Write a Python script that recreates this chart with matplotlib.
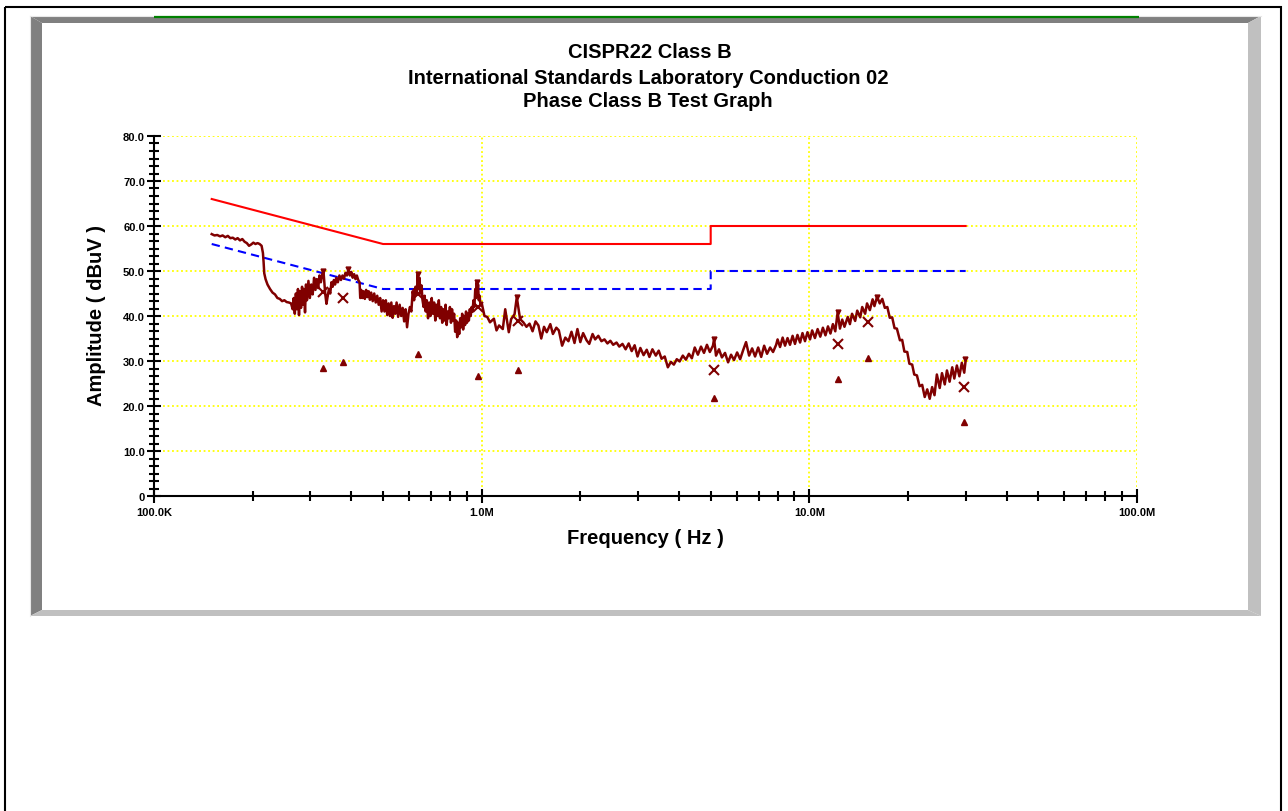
import matplotlib
matplotlib.use("Agg")
import matplotlib.pyplot as plt
from matplotlib.patches import Polygon, Rectangle
from matplotlib.ticker import (FixedLocator, LogLocator, NullFormatter, FixedFormatter,
                               AutoMinorLocator)

plt.rcParams['font.family'] = ['Liberation Sans', 'DejaVu Sans']

# ---- data (frequency in MHz, level in dBuV) ----
qp_limit_f = [0.15, 0.5, 0.5, 5.0, 5.0, 30.0]
qp_limit_db = [66.0, 56.0, 56.0, 56.0, 60.0, 60.0]
av_limit_f = [0.15, 0.5, 0.5, 5.0, 5.0, 30.0]
av_limit_db = [56.0, 46.0, 46.0, 46.0, 50.0, 50.0]

trace_f = [
    0.150, 0.153, 0.156, 0.159, 0.162, 0.165, 0.168, 0.171, 0.174, 0.177,
    0.180, 0.183, 0.186, 0.189, 0.192, 0.195, 0.198, 0.201, 0.204, 0.207,
    0.210, 0.213, 0.215, 0.216, 0.217, 0.219, 0.222, 0.226, 0.230, 0.234,
    0.238, 0.242, 0.246, 0.250, 0.254, 0.258, 0.262, 0.265,
    0.267, 0.269, 0.271, 0.273, 0.275, 0.277, 0.279, 0.281, 0.283, 0.285,
    0.287, 0.289, 0.291, 0.293, 0.296, 0.299, 0.302, 0.305, 0.308, 0.311,
    0.314, 0.317, 0.320, 0.323, 0.326, 0.329, 0.331, 0.333, 0.336, 0.339,
    0.342, 0.345, 0.348, 0.351, 0.354, 0.357, 0.360, 0.364, 0.368, 0.372,
    0.376, 0.380, 0.384, 0.388, 0.392, 0.396, 0.400, 0.404, 0.408, 0.412,
    0.416, 0.420, 0.424,
    0.426, 0.429, 0.432, 0.436, 0.440, 0.444, 0.448, 0.452, 0.456, 0.460,
    0.465, 0.470, 0.475, 0.480, 0.485, 0.490, 0.495, 0.500, 0.505, 0.510,
    0.515, 0.520, 0.525, 0.530, 0.535, 0.540, 0.545, 0.550, 0.556, 0.562,
    0.568, 0.574, 0.580, 0.586, 0.592, 0.598, 0.604, 0.610, 0.616, 0.622,
    0.628, 0.634, 0.638, 0.642, 0.646, 0.650, 0.655, 0.660, 0.665, 0.670,
    0.675, 0.680, 0.686, 0.692, 0.698, 0.704, 0.710, 0.716, 0.722, 0.728,
    0.734, 0.740, 0.746, 0.752, 0.758, 0.764, 0.770, 0.776, 0.782, 0.788,
    0.794, 0.800, 0.806, 0.812, 0.818, 0.824, 0.830, 0.836, 0.842, 0.848,
    0.854, 0.860, 0.866, 0.872, 0.878, 0.884, 0.890, 0.896, 0.902, 0.908,
    0.914, 0.920, 0.926, 0.932, 0.938, 0.944, 0.950, 0.956, 0.962, 0.966,
    0.970, 0.975, 0.980, 0.986, 0.992,
    1.00, 1.02, 1.04, 1.06, 1.09, 1.11, 1.13, 1.16, 1.18, 1.21,
    1.23, 1.26, 1.28, 1.31, 1.34, 1.37, 1.40, 1.43, 1.46, 1.49,
    1.52, 1.55, 1.58, 1.62, 1.65, 1.69, 1.72, 1.76, 1.80, 1.84,
    1.88, 1.92, 1.96, 2.00, 2.04, 2.09, 2.13, 2.18, 2.22, 2.27,
    2.32, 2.37, 2.42, 2.47, 2.52, 2.58, 2.63, 2.69, 2.75, 2.81,
    2.87, 2.93, 2.99, 3.05, 3.12, 3.19, 3.25, 3.32, 3.40, 3.47,
    3.54, 3.62, 3.70, 3.78, 3.86, 3.94, 4.02, 4.11, 4.20, 4.29,
    4.38, 4.47, 4.57, 4.67, 4.77, 4.87, 4.97, 5.08, 5.12, 5.19,
    5.30, 5.41, 5.53, 5.65, 5.77, 5.89, 6.02, 6.15, 6.28, 6.41,
    6.55, 6.69, 6.83, 6.98, 7.13, 7.28, 7.43, 7.59, 7.75, 7.92,
    8.00, 8.14, 8.29, 8.43, 8.58, 8.73, 8.89, 9.04, 9.20, 9.37,
    9.53, 9.70, 9.87, 10.05, 10.2, 10.4, 10.6, 10.8, 11.0, 11.2,
    11.4, 11.6, 11.8, 12.0, 12.2, 12.4, 12.6, 12.8, 13.1, 13.3,
    13.5, 13.8, 14.0, 14.3, 14.5, 14.8, 15.0, 15.3, 15.6, 15.8,
    16.1, 16.4, 16.7, 17.0, 17.3, 17.6, 17.9, 18.2, 18.5, 18.9,
    19.2, 19.5, 19.9, 20.2, 20.6, 20.9, 21.3, 21.7, 22.1, 22.5,
    22.9, 23.3, 23.7, 24.1, 24.5, 25.0, 25.4, 25.9, 26.3, 26.8,
    27.3, 27.7, 28.2, 28.7, 29.2, 29.7, 30.0,
]
trace_db = [
    58.2, 57.9, 58.0, 57.7, 57.9, 57.5, 57.8, 57.3, 57.4, 57.0,
    57.3, 56.8, 57.1, 56.5, 56.2, 55.6, 55.9, 56.3, 56.0, 56.2,
    56.0, 55.6, 54.0, 52.0, 49.5, 48.2, 47.0, 46.0, 45.2, 44.8,
    44.0, 43.8, 43.3, 43.5, 43.1, 43.0, 42.8, 41.5,
    44.0, 40.5, 45.0, 41.5, 46.0, 40.2, 45.5, 41.8, 46.5, 42.5,
    46.0, 40.8, 47.0, 43.5, 47.8, 44.0, 47.0, 44.8, 48.5, 45.8,
    48.2, 46.2, 49.0, 47.5, 49.2, 50.0, 47.5, 45.0, 42.7, 44.5,
    46.0, 45.0, 47.5, 46.5, 48.0, 47.0, 48.5, 47.5, 49.0, 48.0,
    49.0, 48.3, 49.6, 49.0, 50.4, 49.0, 49.8, 48.5, 49.3, 48.2,
    49.0, 48.0, 47.5,
    44.0, 45.8, 44.0, 45.5, 43.8, 45.8, 44.2, 45.5, 43.6, 45.2,
    43.3, 45.0, 43.0, 44.5, 42.5, 44.0, 41.0, 43.5, 41.0, 43.5,
    40.2, 42.8, 40.0, 43.0, 39.6, 42.2, 40.5, 43.0, 39.8, 42.5,
    40.0, 41.8, 38.8, 41.5, 37.5, 40.5, 42.0, 41.0, 45.5, 43.5,
    46.5, 45.0, 49.3, 46.0, 48.5, 45.0, 46.8, 43.5, 42.0, 44.5,
    41.0, 43.5, 39.5, 43.0, 40.0, 44.0, 40.5, 43.0, 39.0, 42.5,
    40.0, 43.5, 39.5, 42.0, 38.5, 41.5, 39.0, 42.5, 38.0, 41.0,
    39.5, 42.0, 38.5, 41.5, 39.0, 40.5, 36.5, 39.0, 35.3, 38.5,
    36.0, 39.5, 37.5, 40.5, 37.0, 40.0, 38.0, 41.0, 38.5, 40.5,
    39.0, 41.5, 40.0, 42.0, 41.0, 43.5, 42.0, 46.0, 44.0, 47.5,
    45.0, 47.0, 43.5, 44.5, 42.3,
    42.9, 40.0, 39.8, 38.6, 39.4, 36.8, 37.9, 37.1, 41.5, 36.4,
    39.3, 40.4, 44.2, 39.3, 38.6, 37.6, 38.3, 36.6, 38.8, 37.9,
    35.0, 37.6, 36.4, 38.2, 36.0, 37.4, 36.8, 33.4, 35.2, 34.4,
    36.5, 34.0, 37.1, 34.2, 36.2, 34.6, 33.8, 36.0, 34.8, 35.6,
    34.4, 34.8, 33.9, 34.5, 33.6, 34.1, 33.2, 33.8, 32.6, 33.9,
    32.2, 33.5, 31.0, 32.9, 31.3, 32.5, 30.9, 32.6, 31.2, 32.3,
    30.5, 31.0, 28.6, 29.8, 29.2, 30.4, 29.9, 31.2, 30.3, 31.6,
    30.6, 33.0, 31.4, 33.2, 31.8, 33.6, 32.0, 33.4, 34.9, 31.2,
    32.6, 30.8, 31.8, 29.7, 31.4, 30.2, 31.9, 30.4, 32.4, 34.2,
    31.2, 32.8, 31.0, 33.0, 30.9, 33.4, 31.6, 33.0, 32.0, 33.6,
    34.8, 33.1, 35.2, 33.4, 35.1, 33.6, 35.6, 33.8, 35.8, 34.1,
    36.2, 34.4, 36.4, 34.8, 36.8, 35.1, 37.1, 35.4, 37.4, 35.7,
    37.7, 36.1, 38.2, 36.6, 40.8, 37.2, 39.2, 37.6, 39.8, 38.2,
    40.5, 38.9, 41.2, 39.7, 42.0, 40.5, 42.8, 41.3, 43.7, 42.2,
    44.3, 42.8, 43.8, 41.8, 42.0, 39.6, 39.7, 37.3, 37.2, 34.6,
    34.7, 32.1, 32.0, 29.4, 29.2, 27.0, 26.8, 24.4, 24.7, 22.0,
    23.7, 21.6, 24.2, 22.4, 27.0, 24.0, 27.3, 24.8, 27.9, 25.4,
    28.6, 26.1, 29.0, 26.6, 29.6, 27.4, 30.2,
]

peak_f = [0.329, 0.392, 0.638, 0.966, 1.28, 5.12, 12.2, 16.1, 29.9]
peak_db = [50.0, 50.4, 49.3, 47.5, 44.2, 34.9, 40.8, 44.3, 30.4]
qp_f = [0.329, 0.378, 0.640, 0.976, 1.293, 5.13, 12.25, 15.12, 29.7]
qp_db = [45.3, 43.9, 44.9, 41.9, 38.9, 28.0, 33.8, 38.6, 24.3]
av_f = [0.329, 0.378, 0.640, 0.976, 1.293, 5.13, 12.25, 15.12, 29.7]
av_db = [28.4, 29.7, 31.6, 26.7, 27.9, 21.8, 26.1, 30.6, 16.4]

y_ticks = [0, 10, 20, 30, 40, 50, 60, 70, 80]
y_labels = ['0', '10.0', '20.0', '30.0', '40.0', '50.0', '60.0', '70.0', '80.0']
x_ticks = [0.1, 1.0, 10.0, 100.0]
x_labels = ['100.0K', '1.0M', '10.0M', '100.0M']

title = 'CISPR22 Class B'
subtitle = ['International Standards Laboratory Conduction 02',
            'Phase Class B Test Graph']

# ---- figure & frame ----
W, H = 1288, 812
fig = plt.figure(figsize=(W / 100, H / 100), dpi=100, facecolor='white')

bg = fig.add_axes([0, 0, 1, 1])
bg.set_xlim(0, W)
bg.set_ylim(H, 0)
bg.axis('off')

bg.add_patch(Rectangle((5.5, 7.5), 1275.5, 830, fill=False, ec='black', lw=1.5))
dark, light = '#808080', '#c0c0c0'
bg.add_patch(Polygon([(30, 17), (1261, 17), (1248, 24), (42, 24)], closed=True, fc=dark, ec='none'))
bg.add_patch(Polygon([(30, 17), (42, 24), (42, 611), (30, 617)], closed=True, fc=dark, ec='none'))
bg.add_patch(Polygon([(1261, 17), (1261, 617), (1248, 611), (1248, 24)], closed=True, fc=light, ec='none'))
bg.add_patch(Polygon([(30, 617), (42, 611), (1248, 611), (1261, 617)], closed=True, fc=light, ec='none'))
bg.plot([30, 1261], [17.3, 17.3], color='#e8e8e8', lw=0.8)
bg.plot([30.3, 30.3], [17, 617], color='#e8e8e8', lw=0.8)
bg.plot([154, 1139], [17.6, 17.6], color='#008000', lw=1.6, solid_capstyle='butt')

# ---- plot area ----
ax = fig.add_axes([154 / W, 1 - 497 / H, 983 / W, 360 / H])
ax.patch.set_alpha(0)
ax.set_xscale('log')
ax.set_xlim(0.1, 100)
ax.set_ylim(0, 80)

ax.grid(True, which='major', color='#ffff00', linestyle=(0, (1, 1.5)), linewidth=1.3)
for s in ['top', 'right']:
    ax.spines[s].set_visible(False)
for s in ['left', 'bottom']:
    ax.spines[s].set_linewidth(1.5)

ax.plot(qp_limit_f, qp_limit_db, color='#ff0000', lw=1.5, zorder=3)
ax.plot(av_limit_f, av_limit_db, color='#0000ff', lw=1.5, dashes=(4, 2.5), zorder=3)
ax.plot(trace_f, trace_db, color='#800000', lw=1.8, zorder=4)
ax.plot(peak_f, peak_db, 'v', color='#800000', ms=3.5, zorder=5)
ax.plot(qp_f, qp_db, 'x', color='#800000', ms=6.5, mew=1.5, zorder=5)
ax.plot(av_f, av_db, '^', color='#800000', ms=4.5, zorder=5)

ax.yaxis.set_major_locator(FixedLocator(y_ticks))
ax.yaxis.set_major_formatter(FixedFormatter(y_labels))
ax.yaxis.set_minor_locator(AutoMinorLocator(6))
ax.xaxis.set_major_locator(FixedLocator(x_ticks))
ax.xaxis.set_major_formatter(FixedFormatter(x_labels))
ax.xaxis.set_minor_locator(LogLocator(base=10, subs=range(2, 10)))
ax.xaxis.set_minor_formatter(NullFormatter())

ax.tick_params(axis='both', which='major', direction='inout', length=10, width=1.5,
               labelsize=8)
ax.tick_params(axis='both', which='minor', direction='inout', length=7, width=1.5)
ax.tick_params(axis='y', which='major', pad=1.5)
ax.tick_params(axis='x', which='major', pad=3)
for lab in ax.get_xticklabels() + ax.get_yticklabels():
    lab.set_fontweight('bold')

# ---- texts ----
fig.text(649.5 / W, 1 - 58.5 / H, title, ha='center', va='baseline',
         fontsize=14.5, fontweight='bold')
fig.text(648 / W, 1 - 83.5 / H, subtitle[0], ha='center', va='baseline',
         fontsize=14.5, fontweight='bold')
fig.text(648 / W, 1 - 107 / H, subtitle[1], ha='center', va='baseline',
         fontsize=14.5, fontweight='bold')
fig.text(645 / W, 1 - 544 / H, 'Frequency ( Hz )', ha='center', va='baseline',
         fontsize=14.5, fontweight='bold')
fig.text(96 / W, 1 - 316 / H, 'Amplitude ( dBuV )', ha='center', va='center',
         rotation=90, fontsize=14.5, fontweight='bold')

fig.savefig('out.png', dpi=100)
